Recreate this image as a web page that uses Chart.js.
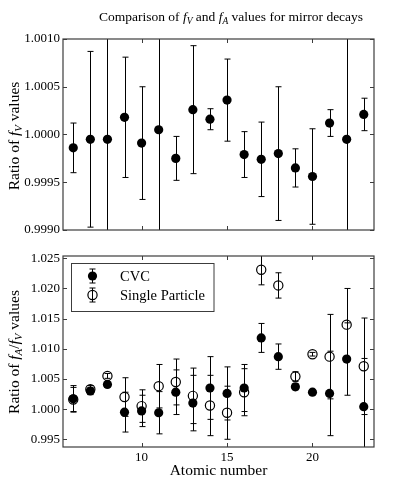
<!DOCTYPE html>
<html>
<head>
<meta charset="utf-8">
<script src="https://cdn.jsdelivr.net/npm/chart.js@4"></script>
<style>
  html, body { margin: 0; padding: 0; background: #fff; }
  #wrap { position: relative; width: 399px; height: 489px; }
  canvas { position: absolute; left: 0; }
</style>
</head>
<body>
<div id="wrap">
  <canvas id="fv-chart" style="top:0" width="399" height="245"></canvas>
  <canvas id="ratio-chart" style="top:245px" width="399" height="244"></canvas>
</div>
<script>
// Mirror decays: ratio of f_V and f_A/f_V
const atomicNumbers = [6, 7, 8, 9, 10, 11, 12, 13, 14, 15, 16, 17, 18, 19, 20, 21, 22, 23];

const fvRatio = [0.99986, 0.99995, 0.99995, 1.00018, 0.99991, 1.00005, 0.99975, 1.00026, 1.00016,
                 1.00036, 0.99979, 0.99974, 0.99980, 0.99965, 0.99956, 1.00012, 0.99995, 1.00021];
const fvError = [0.00026, 0.00092, 0.00300, 0.00063, 0.00059, 0.00300, 0.00023, 0.00067, 0.00011,
                 0.00043, 0.00024, 0.00039, 0.00070, 0.00020, 0.00050, 0.00014, 0.00300, 0.00017];

const cvcRatio = [1.0017, 1.0030, 1.0041, 0.9995, 0.9997, 0.9994, 1.0028, 1.0010, 1.0035,
                  1.0026, 1.0035, 1.0118, 1.0087, 1.0037, 1.0028, 1.0026, 1.0083, 1.0004];
const cvcError = [0.0022, 0.0006, 0.0004, 0.0033, 0.0026, 0.0035, 0.0037, 0.0046, 0.0052,
                  0.0044, 0.0039, 0.0024, 0.0021, 0.0005, 0.0003, 0.0070, 0.0060, 0.0080];

const spRatio = [1.0016, 1.0033, 1.0055, 1.0020, 1.0005, 1.0038, 1.0045, 1.0022, 1.0006,
                 0.9994, 1.0028, 1.0231, 1.0205, 1.0054, 1.0091, 1.0087, 1.0140, 1.0071];
const spError = [0.0020, 0.0006, 0.0004, 0.0032, 0.0027, 0.0036, 0.0038, 0.0046, 0.0050,
                 0.0044, 0.0039, 0.0025, 0.0021, 0.0008, 0.0003, 0.0070, 0.0060, 0.0080];

const fvTicks = [0.9990, 0.9995, 1.0000, 1.0005, 1.0010];
const ratioTicks = [0.995, 1.000, 1.005, 1.010, 1.015, 1.020, 1.025];
const zTicks = [10, 15, 20];

const SERIF = '"Liberation Serif", "Times New Roman", serif';
const FRAME = '#3c3c3c';

function toPoints(ys) {
  return atomicNumbers.map((z, i) => ({ x: z, y: ys[i] }));
}

// text with italic / subscript pieces, centred on x, baseline at y
function drawRich(ctx, parts, x, y, size) {
  const fontFor = p => (p.it ? 'italic ' : '') + (p.sub ? size * 0.7 : size) + 'px ' + SERIF;
  let w = 0;
  parts.forEach(p => { ctx.font = fontFor(p); w += ctx.measureText(p.t).width; });
  let cx = x - w / 2;
  ctx.textAlign = 'left';
  ctx.textBaseline = 'alphabetic';
  ctx.fillStyle = '#000';
  parts.forEach(p => {
    ctx.font = fontFor(p);
    ctx.fillText(p.t, cx, y + (p.sub ? size * 0.22 : 0));
    cx += ctx.measureText(p.t).width;
  });
}

function drawVertical(ctx, parts, x, y, size) {
  ctx.save();
  ctx.translate(x, y);
  ctx.rotate(-Math.PI / 2);
  drawRich(ctx, parts, 0, 0, size);
  ctx.restore();
}

function drawErrorBar(ctx, px, yTop, yBot, cap) {
  ctx.beginPath();
  ctx.moveTo(px, yTop); ctx.lineTo(px, yBot);
  ctx.moveTo(px - cap, yTop); ctx.lineTo(px + cap, yTop);
  ctx.moveTo(px - cap, yBot); ctx.lineTo(px + cap, yBot);
  ctx.stroke();
}

const errorBarPlugin = {
  id: 'errorBars',
  beforeDatasetDraw(chart, args) {
    const ds = chart.data.datasets[args.index];
    if (!ds.errors) return;
    const { ctx, chartArea: a, scales: { x, y } } = chart;
    ctx.save();
    ctx.beginPath();
    ctx.rect(a.left, a.top, a.right - a.left, a.bottom - a.top);
    ctx.clip();
    ctx.strokeStyle = '#000';
    ctx.lineWidth = 1;
    ds.data.forEach((p, i) => {
      const px = Math.round(x.getPixelForValue(p.x)) + 0.5;
      drawErrorBar(ctx, px, y.getPixelForValue(p.y + ds.errors[i]), y.getPixelForValue(p.y - ds.errors[i]), 3);
    });
    ctx.restore();
  },
};

// box frame with inward ticks on all four sides
const framePlugin = {
  id: 'frame',
  afterDatasetsDraw(chart) {
    const { ctx, chartArea: a, scales: { x, y } } = chart;
    ctx.save();
    ctx.strokeStyle = FRAME;
    ctx.lineWidth = 1.2;
    ctx.strokeRect(a.left, a.top, a.right - a.left, a.bottom - a.top);
    ctx.lineWidth = 1;
    ctx.beginPath();
    zTicks.forEach(v => {
      const px = Math.round(x.getPixelForValue(v)) + 0.5;
      ctx.moveTo(px, a.bottom); ctx.lineTo(px, a.bottom - 4);
      ctx.moveTo(px, a.top); ctx.lineTo(px, a.top + 4);
    });
    y.ticks.forEach(t => {
      const py = Math.round(y.getPixelForValue(t.value)) + 0.5;
      ctx.moveTo(a.left, py); ctx.lineTo(a.left + 4, py);
      ctx.moveTo(a.right, py); ctx.lineTo(a.right - 4, py);
    });
    ctx.stroke();
    ctx.restore();
  },
};

const fvTextPlugin = {
  id: 'fvText',
  afterDraw(chart) {
    const ctx = chart.ctx;
    drawRich(ctx, [
      { t: 'Comparison of ' }, { t: 'f', it: true }, { t: 'V', it: true, sub: true },
      { t: ' and ' }, { t: 'f', it: true }, { t: 'A', it: true, sub: true },
      { t: ' values for mirror decays' },
    ], 231, 21, 13.5);
    drawVertical(ctx, [
      { t: 'Ratio of ' }, { t: 'f', it: true }, { t: 'V', it: true, sub: true }, { t: ' values' },
    ], 19, 136, 15.5);
  },
};

const ratioTextPlugin = {
  id: 'ratioText',
  afterDraw(chart) {
    const ctx = chart.ctx;
    drawVertical(ctx, [
      { t: 'Ratio of ' }, { t: 'f', it: true }, { t: 'A', it: true, sub: true }, { t: '/' },
      { t: 'f', it: true }, { t: 'V', it: true, sub: true }, { t: ' values' },
    ], 19, 107, 15.5);

    // legend box
    ctx.save();
    ctx.strokeStyle = FRAME;
    ctx.lineWidth = 1;
    ctx.fillStyle = '#fff';
    ctx.fillRect(71.5, 18.5, 142.5, 48);
    ctx.strokeRect(71.5, 18.5, 142.5, 48);
    const rows = [31, 50];
    chart.data.datasets.forEach((ds, i) => {
      const cy = rows[i];
      ctx.strokeStyle = '#000';
      ctx.lineWidth = 1;
      drawErrorBar(ctx, 92.5, cy - 7, cy + 7, 3);
      ctx.beginPath();
      ctx.arc(92.5, cy, 4.6, 0, Math.PI * 2);
      if (ds.backgroundColor === '#000') {
        ctx.fillStyle = '#000';
        ctx.fill();
      } else {
        ctx.lineWidth = 1.2;
        ctx.stroke();
      }
      ctx.fillStyle = '#000';
      ctx.font = '14.5px ' + SERIF;
      ctx.textAlign = 'left';
      ctx.textBaseline = 'middle';
      ctx.fillText(ds.label, 120, cy + 1);
    });
    ctx.restore();
  },
};

const tickFont = { family: SERIF, size: 13 };

new Chart(document.getElementById('fv-chart'), {
  type: 'scatter',
  data: {
    datasets: [{
      label: 'fV',
      data: toPoints(fvRatio),
      errors: fvError,
      backgroundColor: '#000',
      borderWidth: 0,
      pointRadius: 4.6,
    }],
  },
  options: {
    responsive: false,
    animation: false,
    layout: { padding: { left: 0, right: 25, top: 39, bottom: 15 } },
    plugins: { legend: { display: false }, tooltip: { enabled: false } },
    scales: {
      x: { type: 'linear', min: 5.4, max: 23.6, display: false },
      y: {
        min: 0.999, max: 1.001,
        afterFit: s => { s.width = 63; },
        afterBuildTicks: s => { s.ticks = fvTicks.map(v => ({ value: v })); },
        grid: { display: false, drawTicks: false },
        border: { display: false },
        ticks: { padding: 3, color: '#000', font: tickFont, callback: v => v.toFixed(4) },
      },
    },
  },
  plugins: [errorBarPlugin, framePlugin, fvTextPlugin],
});

new Chart(document.getElementById('ratio-chart'), {
  type: 'scatter',
  data: {
    datasets: [{
      label: 'CVC',
      data: toPoints(cvcRatio),
      errors: cvcError,
      backgroundColor: '#000',
      borderWidth: 0,
      pointRadius: 4.6,
    }, {
      label: 'Single Particle',
      data: toPoints(spRatio),
      errors: spError,
      backgroundColor: 'rgba(0,0,0,0)',
      borderColor: '#000',
      borderWidth: 1.2,
      pointRadius: 4.6,
    }],
  },
  options: {
    responsive: false,
    animation: false,
    layout: { padding: { left: 0, right: 25, top: 11, bottom: 0 } },
    plugins: { legend: { display: false }, tooltip: { enabled: false } },
    scales: {
      x: {
        type: 'linear', min: 5.4, max: 23.6,
        afterFit: s => { s.height = 42; },
        afterBuildTicks: s => { s.ticks = zTicks.map(v => ({ value: v })); },
        grid: { display: false, drawTicks: false },
        border: { display: false },
        ticks: { padding: 3, color: '#000', font: tickFont, maxRotation: 0 },
        title: {
          display: true, text: 'Atomic number', color: '#000',
          font: { family: SERIF, size: 15.5 }, padding: { top: 0, bottom: 9 },
        },
      },
      y: {
        min: 0.99372, max: 1.02538,
        afterFit: s => { s.width = 63; },
        afterBuildTicks: s => { s.ticks = ratioTicks.map(v => ({ value: v })); },
        grid: { display: false, drawTicks: false },
        border: { display: false },
        ticks: { padding: 3, color: '#000', font: tickFont, callback: v => v.toFixed(3) },
      },
    },
  },
  plugins: [errorBarPlugin, framePlugin, ratioTextPlugin],
});
</script>
</body>
</html>
